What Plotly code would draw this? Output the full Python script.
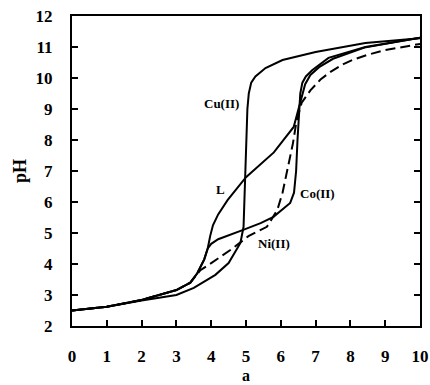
import plotly.graph_objects as go

# Data
cu_x = [0, 1, 2, 3, 3.5, 4.12, 4.5, 4.84, 4.93, 4.97, 5.0, 5.04, 5.08, 5.15, 5.27, 5.56, 6.05, 7.0, 8.43, 10]
cu_y = [2.5, 2.62, 2.82, 3.0, 3.23, 3.65, 4.03, 4.68, 5.2, 6.5, 8.0, 9.0, 9.5, 9.85, 10.05, 10.32, 10.58, 10.84, 11.13, 11.28]

l_x = [0, 1, 2, 3, 3.4, 3.6, 3.8, 3.9, 3.97, 4.05, 4.2, 4.47, 5.0, 5.8, 6.37, 6.5, 6.6, 6.7, 6.85, 7.1, 7.5, 8.4, 10]
l_y = [2.5, 2.62, 2.84, 3.16, 3.4, 3.7, 4.15, 4.5, 4.9, 5.25, 5.6, 6.06, 6.8, 7.6, 8.42, 8.95, 9.4, 9.8, 10.1, 10.35, 10.62, 10.98, 11.3]

co_x = [0, 1, 2, 3, 3.4, 3.6, 3.8, 3.9, 4.0, 4.2, 4.92, 5.42, 5.79, 6.27, 6.38, 6.44, 6.48, 6.52, 6.56, 6.62, 6.72, 6.9, 7.37, 8.43, 10]
co_y = [2.5, 2.62, 2.84, 3.16, 3.4, 3.7, 4.15, 4.5, 4.65, 4.8, 5.1, 5.32, 5.52, 5.97, 6.3, 7.0, 8.0, 9.0, 9.5, 9.85, 10.05, 10.25, 10.65, 11.0, 11.3]

ni_x = [0, 1, 2, 3, 3.4, 3.6, 3.69, 4.0, 4.55, 5.07, 5.6, 5.9, 6.05, 6.2, 6.35, 6.45, 6.6, 6.85, 7.14, 7.43, 7.8, 8.1, 8.5, 9.0, 9.5, 10]
ni_y = [2.5, 2.62, 2.84, 3.16, 3.4, 3.7, 3.8, 4.03, 4.45, 4.9, 5.2, 5.74, 6.3, 7.1, 7.9, 8.6, 9.2, 9.6, 9.95, 10.2, 10.45, 10.6, 10.75, 10.9, 11.0, 11.1]

labels = ["Cu(II)", "L", "Co(II)", "Ni(II)"]
label_x = [4.29, 4.26, 7.05, 5.8]
label_y = [9.19, 6.39, 6.29, 4.65]

x_ticks = list(range(0, 11))
y_ticks = list(range(2, 13))

FONT = "Liberation Serif"

fig = go.Figure()
for xs, ys, dash in [(l_x, l_y, "solid"), (co_x, co_y, "solid"), (cu_x, cu_y, "solid"), (ni_x, ni_y, "10px,5px")]:
    fig.add_trace(go.Scatter(x=xs, y=ys, mode="lines",
                             line=dict(color="black", width=2, dash=dash),
                             showlegend=False, hoverinfo="skip"))

for t, x, y in zip(labels, label_x, label_y):
    fig.add_annotation(x=x, y=y, text=t, showarrow=False,
                       font=dict(family=FONT, size=13, color="black", weight="bold"))

fig.add_annotation(xref="paper", yref="paper", x=0.5, y=0, yshift=-59, yanchor="bottom",
                   text="a", showarrow=False, borderpad=0,
                   font=dict(family=FONT, size=16, color="black", weight="bold"))
fig.add_annotation(xref="paper", yref="paper", x=0, xshift=-52, y=0.5, xanchor="center",
                   text="pH", showarrow=False, textangle=-90,
                   font=dict(family=FONT, size=18, color="black", weight="bold"))

fig.update_xaxes(range=[0, 10], tickvals=x_ticks,
                 ticks="inside", ticklen=6, tickwidth=2, tickcolor="black",
                 showline=True, linewidth=2, linecolor="black", mirror=True,
                 showgrid=False, zeroline=False, ticklabelstandoff=14, automargin=False,
                 tickfont=dict(family=FONT, size=17, color="black", weight="bold"))
fig.update_yaxes(range=[2, 12], tickvals=y_ticks,
                 ticks="inside", ticklen=6, tickwidth=2, tickcolor="black",
                 showline=True, linewidth=2, linecolor="black", mirror="ticks",
                 showgrid=False, zeroline=False, ticklabelstandoff=14, automargin=False,
                 tickfont=dict(family=FONT, size=17, color="black", weight="bold"))

fig.update_layout(width=430, height=385, margin=dict(l=72, r=10, t=16, b=59),
                  plot_bgcolor="white", paper_bgcolor="white")

fig.write_html("out.html")
